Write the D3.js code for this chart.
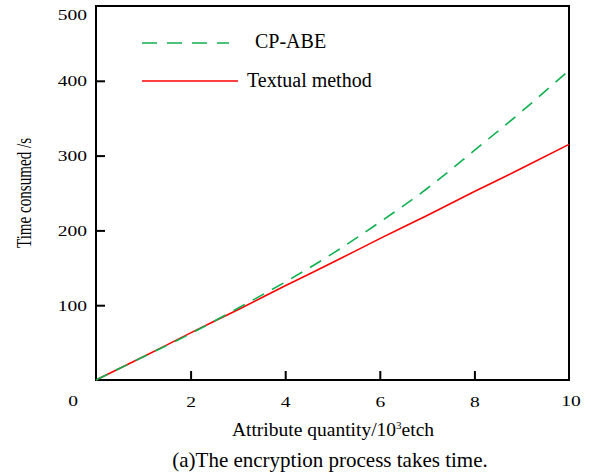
<!DOCTYPE html>
<html>
<head>
<meta charset="utf-8">
<script src="https://cdn.jsdelivr.net/npm/d3@7"></script>
<style>
  body { margin: 0; background: #fff; }
  svg text { font-family: "Liberation Serif", "Times New Roman", Times, serif; fill: #000; }
</style>
</head>
<body>
<svg id="svg1"></svg>
<script>
// Data
const attrQty = [0, 1, 2, 3, 4, 5, 6, 7, 8, 9, 10];
const cpAbe = [0, 31, 62, 96, 131, 169, 211, 256, 307, 359, 414];
const textual = [0, 31, 63, 94, 126, 157, 189, 220, 252, 283, 315];
const xTicks = [2, 4, 6, 8];
const yTicks = [100, 200, 300, 400];

const width = 591;
const height = 474;
const margin = { top: 6, right: 22, bottom: 94, left: 96 };
const serif = "Liberation Serif, Times New Roman, Times, serif";

const svg = d3.select("#svg1")
    .attr("width", width)
    .attr("height", height)
    .attr("font-family", serif);

// kéo giãn chữ số theo chiều ngang quanh điểm neo
function widen(sel, k) {
    sel.attr("transform", function() {
        const x0 = +d3.select(this).attr("x") || 0;
        return `translate(${x0},0) scale(${k},1) translate(${-x0},0)`;
    });
}

const x = d3.scaleLinear()
    .domain([0, 10])
    .range([margin.left, width - margin.right]);

const y = d3.scaleLinear()
    .domain([0, 500])
    .range([height - margin.bottom, margin.top]);

// Khung
svg.append("rect")
    .attr("x", x(0))
    .attr("y", y(500))
    .attr("width", x(10) - x(0))
    .attr("height", y(0) - y(500))
    .attr("fill", "none")
    .attr("stroke", "#000")
    .attr("stroke-width", 2);

// Trục X (tick hướng vào trong)
const xAxis = svg.append("g")
    .attr("transform", `translate(0,${y(0)})`)
    .call(d3.axisBottom(x).tickValues(xTicks).tickSizeInner(-9).tickSizeOuter(0).tickPadding(16));
xAxis.attr("font-family", serif).attr("font-size", null);
xAxis.select(".domain").remove();
xAxis.selectAll("line").attr("stroke-width", 2);
xAxis.selectAll("text").style("font-size", "15px").call(widen, 1.3);

// Trục Y
const yAxis = svg.append("g")
    .attr("transform", `translate(${x(0)},0)`)
    .call(d3.axisLeft(y).tickValues(yTicks).tickSizeInner(-9).tickSizeOuter(0).tickPadding(9));
yAxis.attr("font-family", serif).attr("font-size", null);
yAxis.select(".domain").remove();
yAxis.selectAll("line").attr("stroke-width", 2);
yAxis.selectAll("text").style("font-size", "15px").call(widen, 1.3);

// Nhãn góc
svg.append("text").attr("x", x(0) - 23).attr("y", y(0) + 26)
    .attr("text-anchor", "middle").style("font-size", "15px").text("0").call(widen, 1.3);
svg.append("text").attr("x", x(10) + 2).attr("y", y(0) + 26)
    .attr("text-anchor", "middle").style("font-size", "15px").text("10").call(widen, 1.3);
svg.append("text").attr("x", x(0) - 9).attr("y", y(500) + 14)
    .attr("text-anchor", "end").style("font-size", "15px").text("500").call(widen, 1.3);

// Đường
const line = d3.line()
    .x((d, i) => x(attrQty[i]))
    .y(d => y(d))
    .curve(d3.curveMonotoneX);

svg.append("path")
    .datum(textual)
    .attr("d", line)
    .attr("fill", "none")
    .attr("stroke", "#ff0000")
    .attr("stroke-width", 1.6);

svg.append("path")
    .datum(cpAbe)
    .attr("d", line)
    .attr("fill", "none")
    .attr("stroke", "#10b050")
    .attr("stroke-width", 1.6)
    .attr("stroke-dasharray", "13,9");

// Chú thích
const legend = svg.append("g");
legend.append("line").attr("x1", 142).attr("x2", 229).attr("y1", 43).attr("y2", 43)
    .attr("stroke", "#10b050").attr("stroke-width", 1.6).attr("stroke-dasharray", "15,10");
legend.append("text").attr("x", 255).attr("y", 48).style("font-size", "20px").text("CP-ABE");
legend.append("line").attr("x1", 142).attr("x2", 238).attr("y1", 81).attr("y2", 81)
    .attr("stroke", "#ff0000").attr("stroke-width", 1.6);
legend.append("text").attr("x", 247).attr("y", 87).style("font-size", "20px").text("Textual method");

// Tiêu đề trục
const xLabel = svg.append("text")
    .attr("x", 333).attr("y", 436)
    .attr("text-anchor", "middle")
    .style("font-size", "19.5px");
xLabel.append("tspan").text("Attribute quantity/10");
xLabel.append("tspan").attr("dy", -7).style("font-size", "11px").text("3");
xLabel.append("tspan").attr("dy", 7).text("etch");

svg.append("text")
    .attr("transform", "translate(31,193) rotate(-90)")
    .attr("text-anchor", "middle")
    .attr("textLength", 110)
    .attr("lengthAdjust", "spacingAndGlyphs")
    .style("font-size", "20px")
    .text("Time consumed /s");

svg.append("text")
    .attr("x", 330).attr("y", 467)
    .attr("text-anchor", "middle")
    .style("font-size", "21px")
    .text("(a)The encryption process takes time.");
</script>
</body>
</html>
